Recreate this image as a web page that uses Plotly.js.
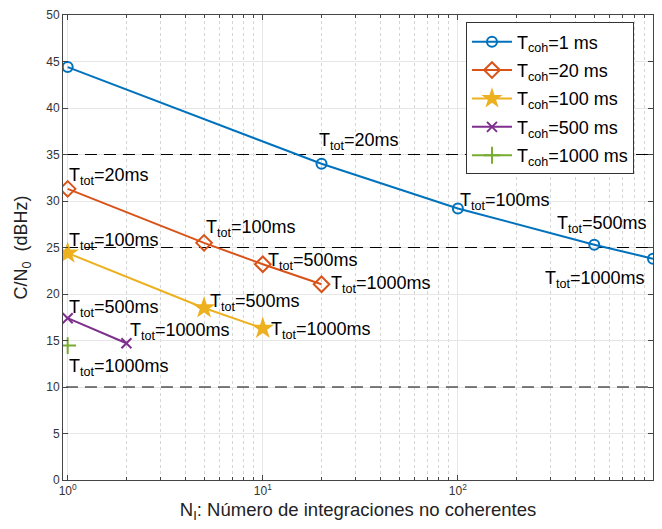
<!DOCTYPE html>
<html>
<head>
<meta charset="utf-8">
<script src="https://cdn.plot.ly/plotly-3.0.1.min.js"></script>
<style>html,body{margin:0;padding:0;background:#fff;}#chart{width:662px;height:529px;}</style>
</head>
<body>
<div id="chart"></div>
<script>
// Data
var ni_coh1 = [1, 20, 100, 500, 1000];
var cn0_coh1 = [44.4, 34.0, 29.2, 25.3, 23.8];
var ni_coh20 = [1, 5, 10, 20];
var cn0_coh20 = [31.3, 25.5, 23.2, 21.05];
var ni_coh100 = [1, 5, 10];
var cn0_coh100 = [24.4, 18.5, 16.3];
var ni_coh500 = [1, 2];
var cn0_coh500 = [17.4, 14.7];
var ni_coh1000 = [1];
var cn0_coh1000 = [14.45];
var thresholds = [35, 25, 10];
var cohLabels = ['1 ms', '20 ms', '100 ms', '500 ms', '1000 ms'];
var ttotLabels1 = ['', '20ms', '100ms', '500ms', '1000ms'];
var ttotLabels20 = ['20ms', '100ms', '500ms', '1000ms'];
var ttotLabels100 = ['100ms', '500ms', '1000ms'];
var ttotLabels500 = ['500ms', '1000ms'];
var ttotLabels1000 = ['1000ms'];
var xTickVals = [1, 10, 100, 1000];
var xTickText = ['10<sup>0</sup>', '10<sup>1</sup>', '10<sup>2</sup>', '10<sup>3</sup>'];
var xMinorVals = [2,3,4,5,6,7,8,9,20,30,40,50,60,70,80,90,200,300,400,500,600,700,800,900];
var yTickVals = [0, 5, 10, 15, 20, 25, 30, 35, 40, 45, 50];

var colors = ['#0072BD', '#D95319', '#EDB120', '#7E2F8E', '#77AC30'];
var FONT = 'Liberation Sans, Arial, Helvetica, sans-serif';

var traces = [];
thresholds.forEach(function (t) {
  traces.push({
    x: [0.5, 2000], y: [t, t], mode: 'lines', showlegend: false, hoverinfo: 'skip',
    line: {color: '#000', width: 1.2, dash: '12px,7px'}
  });
});
var sets = [
  [ni_coh1, cn0_coh1, {symbol: 'circle-open', size: 10, line: {width: 2}}],
  [ni_coh20, cn0_coh20, {symbol: 'diamond-open', size: 12, line: {width: 2}}],
  [ni_coh100, cn0_coh100, {symbol: 'star', size: 17, line: {width: 0}}],
  [ni_coh500, cn0_coh500, {symbol: 'x-thin-open', size: 10, line: {width: 2}}],
  [ni_coh1000, cn0_coh1000, {symbol: 'cross-thin-open', size: 12, line: {width: 2}}]
];
sets.forEach(function (s, i) {
  var m = s[2];
  m.color = colors[i];
  m.line.color = colors[i];
  traces.push({
    x: s[0], y: s[1], mode: 'lines+markers', legendgroup: 'g' + i,
    name: 'T<sub>coh</sub>=' + cohLabels[i],
    line: {color: colors[i], width: 2}, marker: m
  });
});

var annSpec = [
  [ni_coh1, cn0_coh1, ttotLabels1, [[0,0],[-5,22],[0,7],[-39,20],[-6,-21]]],
  [ni_coh20, cn0_coh20, ttotLabels20, [[-1,12],[0,14],[3,3],[7,0]]],
  [ni_coh100, cn0_coh100, ttotLabels100, [[-1,12],[4,5],[6,-2]]],
  [ni_coh500, cn0_coh500, ttotLabels500, [[-1,10],[2,12]]],
  [ni_coh1000, cn0_coh1000, ttotLabels1000, [[-1,-22]]]
];
var annotations = [];
annSpec.forEach(function (a) {
  a[0].forEach(function (xv, j) {
    if (!a[2][j]) return;
    var isRight = (xv === 1000);
    annotations.push({
      x: Math.log10(xv), y: a[1][j], xref: 'x', yref: 'y',
      text: 'T<sub>tot</sub>=' + a[2][j], showarrow: false,
      xanchor: isRight ? 'right' : 'left', yanchor: 'middle',
      xshift: a[3][j][0], yshift: a[3][j][1],
      font: {family: FONT, size: 18, color: '#000'}
    });
  });
});

var layout = {
  width: 662, height: 529,
  margin: {l: 63, r: 9, t: 15, b: 49},
  paper_bgcolor: '#fff', plot_bgcolor: '#fff',
  font: {family: FONT, color: '#222'},
  showlegend: true,
  legend: {
    x: 0.683, y: 0.984, xanchor: 'left', yanchor: 'top',
    bgcolor: '#fff', bordercolor: '#333', borderwidth: 1,
    font: {family: FONT, size: 18, color: '#000'},
    tracegroupgap: 2, itemwidth: 40
  },
  xaxis: {
    type: 'log', range: [-0.024, 3],
    tickvals: xTickVals, ticktext: xTickText,
    tickfont: {family: FONT, size: 12, color: '#333'},
    ticks: 'inside', ticklen: 5, tickcolor: '#444',
    showline: true, linecolor: '#444', linewidth: 1, mirror: 'ticks',
    showgrid: true, gridcolor: '#e6e6e6', gridwidth: 1,
    minor: {tickmode: 'array', tickvals: xMinorVals, ticks: 'inside', ticklen: 3, tickcolor: '#444',
            showgrid: true, gridcolor: '#d4d4d4', griddash: 'dot', gridwidth: 1},
    zeroline: false,
    title: {text: 'N<sub>I</sub>: Número de integraciones no coherentes', font: {family: FONT, size: 18.5, color: '#222'}, standoff: 5}
  },
  yaxis: {
    range: [0, 50], tickvals: yTickVals,
    tickfont: {family: FONT, size: 12, color: '#333'},
    ticks: 'inside', ticklen: 5, tickcolor: '#444',
    showline: true, linecolor: '#444', linewidth: 1, mirror: 'ticks',
    showgrid: true, gridcolor: '#e6e6e6', gridwidth: 1,
    zeroline: false,
    title: {text: 'C/N<sub>0</sub>  (dBHz)', font: {family: FONT, size: 18, color: '#222'}, standoff: 13}
  },
  annotations: annotations
};

Plotly.newPlot('chart', traces, layout, {staticPlot: true, displayModeBar: false});
</script>
</body>
</html>
